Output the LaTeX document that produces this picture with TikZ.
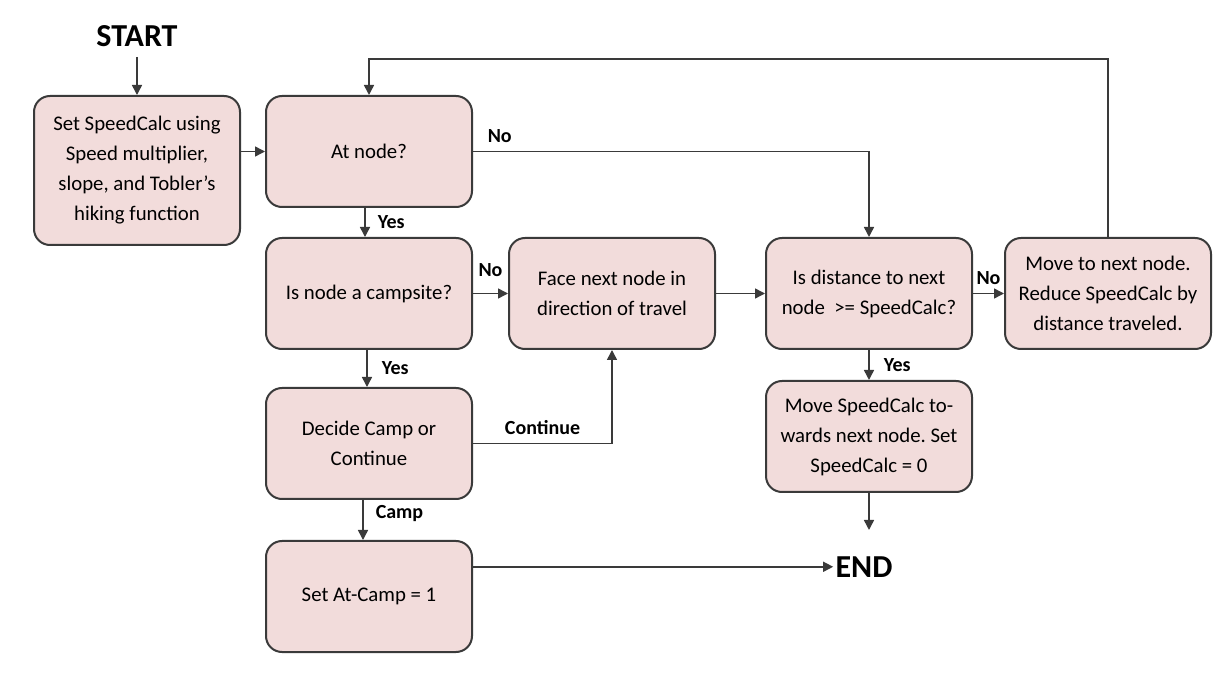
\documentclass[tikz,border=0pt]{standalone}
\usepackage{fontspec}
\setmainfont{Carlito}
\usetikzlibrary{arrows.meta, positioning}
\definecolor{boxfill}{HTML}{F2DCDB}
\definecolor{boxline}{HTML}{3A3A3A}
\frenchspacing

\begin{document}
\begin{tikzpicture}[
    node distance=15pt and 15pt,
    font=\fontsize{10.4}{15}\selectfont,
    >={Triangle[length=5pt,width=5pt]},
    box/.style={rectangle, draw=boxline, line width=1pt, rounded corners=8pt, fill=boxfill, align=center, minimum height=55.5pt, minimum width=103pt, inner sep=2pt},
    term/.style={font=\fontsize{16}{18}\selectfont\bfseries, inner sep=1pt},
    lbl/.style={font=\fontsize{10}{12}\selectfont\bfseries, inner sep=1pt},
    line/.style={draw=boxline, ->, line width=0.75pt}
]
\useasboundingbox (0,0) rectangle (614pt,-342pt);

% Nodes
\node[box] (atnode) at (184.5pt,-75.75pt) {At node?};
\node[box, minimum height=74.5pt, left=12pt of atnode.north west, anchor=north east] (set) {Set SpeedCalc using\\Speed multiplier,\\slope, and Tobler’s\\hiking function};
\node[term, above=23pt of set] (start) {START};

\node[box, below=14.5pt of atnode] (campsite) {Is node a campsite?};
\node[box, below=18.5pt of campsite] (decide) {Decide Camp or\\Continue};
\node[box, below=20pt of decide] (atcamp) {Set At-Camp = 1};

\node[box, right=17.5pt of campsite] (face) {Face next node in\\direction of travel};
\node[box, right=24.5pt of face] (isdist) {Is distance to next\\node\ \ >= SpeedCalc?};
\node[box, right=15.5pt of isdist] (move) {Move to next node.\\Reduce SpeedCalc by\\distance traveled.};
\node[box, below=15pt of isdist] (movecalc) {Move SpeedCalc to-\\wards next node. Set\\SpeedCalc = 0};
\node[term, below=30.5pt of movecalc, xshift=-2.5pt] (end) {END};

% Edges
\draw[line, shorten <=4pt] (start) -- (set);
\draw[line] (set.east |- atnode.west) -- (atnode.west);
\draw[line] (atnode.east) node[lbl, above right=3pt and 6pt] {No} -| (isdist.north);
\draw[line] ([xshift=-2pt]atnode.south) -- node[lbl, right=5pt] {Yes} ([xshift=-2pt]campsite.north);
\draw[line] (campsite) -- node[lbl, above=7pt] {No} (face);
\draw[line] ([xshift=-1pt]campsite.south) -- node[lbl, right=6pt] {Yes} ([xshift=-1pt]decide.north);
\draw[line] (decide.east) -| node[lbl, above=3pt, pos=0.25] {Continue} (face.south);
\draw[line] ([xshift=-3pt]decide.south) -- node[lbl, right=5pt, pos=0.35] {Camp} ([xshift=-3pt]atcamp.north);
\draw[line] (atcamp.east |- end.west) -- (end.west);
\draw[line] (face) -- (isdist);
\draw[line] (isdist) -- node[lbl, above=3pt] {No} (move);
\draw[line] (isdist) -- node[lbl, right=6pt] {Yes} (movecalc);
\draw[line, shorten >=12pt] (movecalc) -- (movecalc |- end.north);

% Loop back
\draw[line] (move.north) -- ++(0,89pt) -| (atnode.north);

\end{tikzpicture}
\end{document}
